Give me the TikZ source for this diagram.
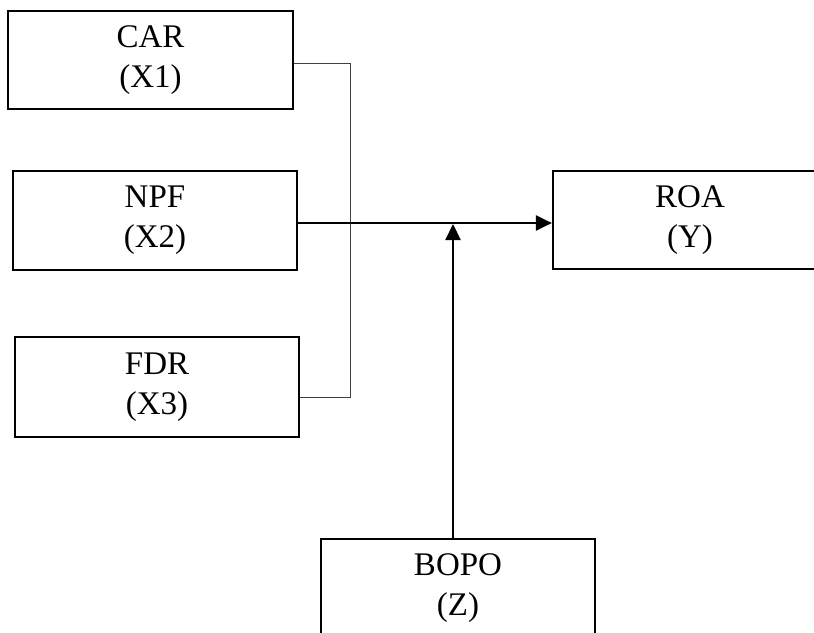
\documentclass[tikz,border=0pt]{standalone}
\usepackage{fontspec}
\setmainfont{Liberation Serif}
\usetikzlibrary{arrows.meta}
\tikzset{
  varbox/.style={draw, line width=2.2pt, inner sep=0pt, align=center,
    minimum width=284pt, minimum height=98pt,
    font=\fontsize{33}{40}\selectfont},
  bracket/.style={draw=black!75, line width=1pt},
  arr/.style={line width=2.2pt, -{Triangle[length=16pt,width=15pt]}}
}
\begin{document}
\begin{tikzpicture}[x=1pt,y=-1pt]
\clip (0,0) rectangle (814,632);
% variable boxes
\node[varbox, minimum width=285pt] (CAR) at (150.5,60) {CAR\\(X1)};
\node[varbox, minimum height=99pt] (NPF) at (155,220.5) {NPF\\(X2)};
\node[varbox, minimum height=100pt] (FDR) at (157,387) {FDR\\(X3)};
\node[varbox, minimum width=274pt] (ROA) at (690,220) {ROA\\(Y)};
\node[varbox, minimum width=274pt] (BOPO) at (458,588) {BOPO\\(Z)};
% bracket joining the X boxes
\draw[bracket] ([yshift=-3pt]CAR.east) -| ([xshift=50pt,yshift=-10pt]FDR.east)
  -- ([yshift=-10pt]FDR.east);
% arrows
\draw[arr] ([yshift=-2.5pt]NPF.east) -- ([yshift=-3pt]ROA.west);
\coordinate (meet) at (453,224);
\draw[arr] (BOPO.north -| meet) -- (meet);
\end{tikzpicture}
\end{document}
